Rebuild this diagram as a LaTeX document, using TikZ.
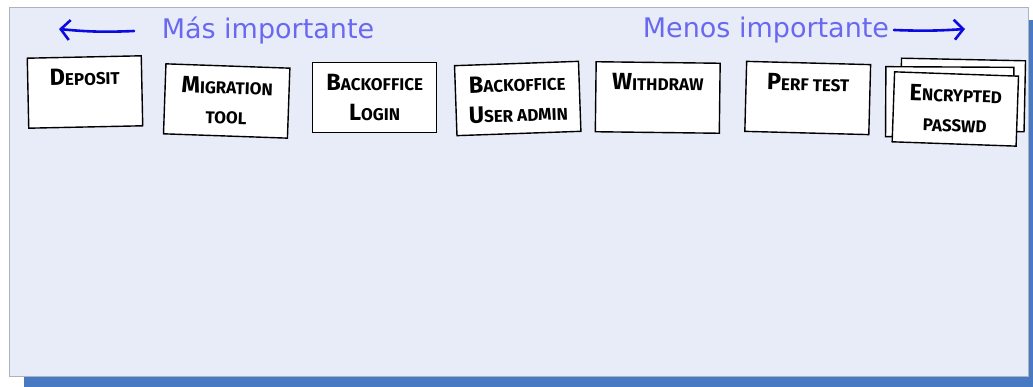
\documentclass[tikz,border=0pt]{standalone}
\usepackage{fontspec}
\setmainfont{DejaVu Sans}
\newfontfamily\cardfont{Fira Sans}
\usetikzlibrary{positioning, arrows.meta}

\definecolor{panelfill}{RGB}{232,236,248}
\definecolor{panelline}{RGB}{175,178,190}
\definecolor{shadowblue}{RGB}{72,122,196}
\definecolor{headblue}{RGB}{105,105,240}
\definecolor{arrowblue}{RGB}{10,10,225}

\newcommand\initcap[1]{{\fontsize{23.5}{30}\selectfont #1}}
\newcommand\cardtext[2][124pt]{\parbox[c][70pt][t]{#1}{\centering\cardfont\bfseries\fontsize{17}{30}\selectfont\rule{0pt}{28pt}#2}}

\tikzset{
  card/.style={draw, line width=1.4pt, fill=white, inner sep=0pt},
  heading/.style={text=headblue, font=\fontsize{27}{27}\selectfont},
  hand arrow/.style={arrowblue, line width=2.6pt, line cap=round, -{Straight Barb[length=9pt, width=20pt]}}
}

\begin{document}
\begin{tikzpicture}[x=1pt, y=-1pt, node distance=143pt, on grid]
  \useasboundingbox (0,0) rectangle (1033,387);
  \fill[shadowblue] (24,20) rectangle (1033,387);
  \draw[panelline, fill=panelfill, line width=0.8pt] (9,7) rectangle (1028,376);

  % headings and arrows
  \node[heading] (mas) at (268,31) {Más importante};
  \node[heading] (menos) at (766,30) {Menos importante};
  \coordinate (lefttail) at (134,31);
  \coordinate (lefthead) at (59,29);
  \coordinate (righttail) at (894,30);
  \coordinate (righthead) at (965,29);
  \draw[hand arrow] (lefttail) to[bend left=4] (lefthead);
  \draw[hand arrow] (righttail) to[bend right=3] (righthead);

  % cards
  \node[card, rotate=1.2] (deposit) at (85,92) {\cardtext[114pt]{\initcap{D}EPOSIT}};
  \node[card, rotate=-2] (migration) [right=142pt of deposit, yshift=-9pt] {\cardtext{\initcap{M}IGRATION\\TOOL}};
  \node[card] (login) [right=148pt of migration, yshift=3.5pt] {\cardtext{\initcap{B}ACKOFFICE\\\initcap{L}OGIN}};
  \node[card, rotate=2] (useradmin) [right=143pt of login, yshift=-1pt] {\cardtext{\initcap{B}ACKOFFICE\\\initcap{U}SER ADMIN}};
  \node[card, rotate=-0.7] (withdraw) [right=140pt of useradmin, yshift=1pt] {\cardtext{\initcap{W}ITHDRAW}};
  \node[card, rotate=-1.5] (perf) [right=150pt of withdraw, yshift=-0.5pt] {\cardtext{\initcap{P}ERF TEST}};
  \begin{scope}[node distance=148pt]
  \node[card, rotate=-1.2, minimum width=124pt, minimum height=71pt] (sheetb) [right=155pt of perf, yshift=3pt] {};
  \node[card, rotate=-0.3, minimum width=128pt, minimum height=70pt] (sheeta) [right=142pt of perf, yshift=-4pt] {};
  \node[card, rotate=-2] (passwd) [right=of perf, yshift=-11pt] {\cardtext{\initcap{E}NCRYPTED\\PASSWD}};
  \end{scope}
\end{tikzpicture}
\end{document}
